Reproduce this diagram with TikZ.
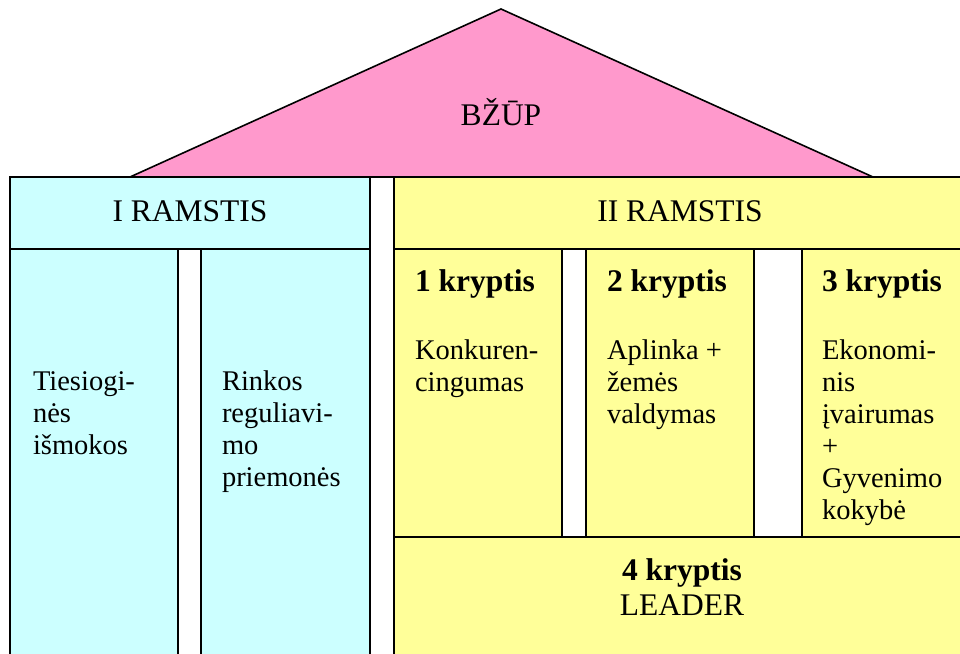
\documentclass[tikz,border=0pt]{standalone}
\usepackage{fontspec}
\setmainfont{Liberation Serif}
\definecolor{roofpink}{HTML}{FF99CC}
\definecolor{pillarcyan}{HTML}{CCFFFF}
\definecolor{pillaryellow}{HTML}{FFFF99}
\newcommand{\txtblock}[1]{\parbox[t]{150pt}{\raggedright #1}}
\tikzset{
  cell/.style={draw=black, line width=1.6pt, rectangle, inner sep=0pt, outer sep=0pt, anchor=north west},
  cyancell/.style={cell, fill=pillarcyan},
  yellowcell/.style={cell, fill=pillaryellow},
  txt/.style={font=\fontsize{28.5}{32}\selectfont, inner sep=0pt, outer sep=0pt},
  bigtxt/.style={font=\fontsize{31.5}{34}\selectfont, inner sep=0pt, outer sep=0pt},
  bodytxt/.style={txt, anchor=base west},
  headtxt/.style={bigtxt, anchor=base},
  boldtxt/.style={bigtxt, anchor=base west, font=\fontsize{31.5}{34}\selectfont\bfseries},
}
\begin{document}
\begin{tikzpicture}[x=1pt, y=-1pt]
\useasboundingbox (0,0) rectangle (960,653);
\clip (0,0) rectangle (960,653);
% roof
\coordinate (roofL) at (130,177);
\coordinate (roofT) at (501,9);
\coordinate (roofR) at (873,177);
\draw[fill=roofpink, line width=1.6pt, line join=miter] (roofL) -- (roofT) -- (roofR) -- cycle;
\node[headtxt] (bzup) at (501,125) {BŽŪP};
% pillar I
\node[cyancell, minimum width=168pt, minimum height=500pt] (c1) at (10,249) {};
\node[cyancell, minimum width=169pt, minimum height=500pt] (c2) at (201,249) {};
\node[cyancell, minimum width=360pt, minimum height=72pt] (h1) at (10,177) {};
\node[headtxt] (h1t) at (190,221) {I RAMSTIS};
\node[bodytxt] (c1t) at (33,390) {\txtblock{Tiesiogi-\\nės\\išmokos}};
\node[bodytxt] (c2t) at (222,390) {\txtblock{Rinkos\\reguliavi-\\mo\\priemonės}};
% pillar II
\node[yellowcell, minimum width=168pt, minimum height=288pt] (k1) at (394,249) {};
\node[yellowcell, minimum width=168pt, minimum height=288pt] (k2) at (586,249) {};
\node[yellowcell, minimum width=200pt, minimum height=288pt] (k3) at (802,249) {};
\node[yellowcell, minimum width=610pt, minimum height=200pt] (k4) at (394,537) {};
\node[yellowcell, minimum width=610pt, minimum height=72pt] (h2) at (394,177) {};
\node[headtxt] (h2t) at (680,221) {II RAMSTIS};
\node[boldtxt] (k1h) at (415,291) {1 kryptis};
\node[bodytxt] (k1t) at (415,359) {\txtblock{Konkuren-\\cingumas}};
\node[boldtxt] (k2h) at (607,291) {2 kryptis};
\node[bodytxt] (k2t) at (607,359) {\txtblock{Aplinka +\\žemės\\valdymas}};
\node[boldtxt] (k3h) at (822,291) {3 kryptis};
\node[bodytxt] (k3t) at (822,359) {\txtblock{Ekonomi-\\nis\\įvairumas\\+\\Gyvenimo\\kokybė}};
\node[headtxt, font=\fontsize{31.5}{34}\selectfont\bfseries] (k4h) at (682,580) {4 kryptis};
\node[headtxt] (k4t) at (682,615) {LEADER};
\end{tikzpicture}
\end{document}
